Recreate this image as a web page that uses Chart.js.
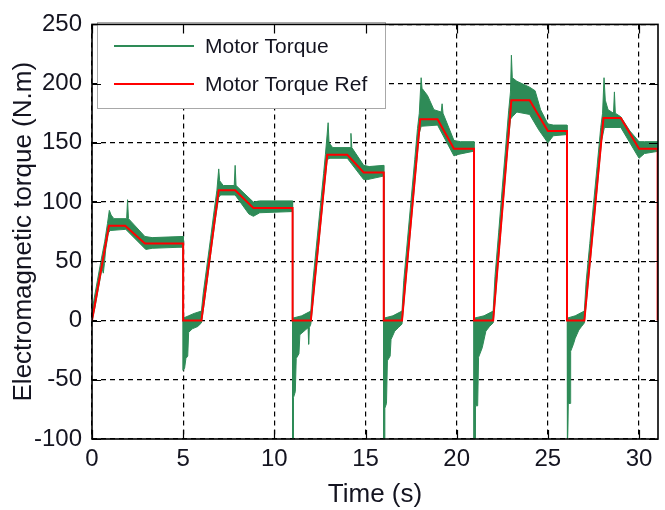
<!DOCTYPE html>
<html>
<head>
<meta charset="utf-8">
<script src="https://cdn.jsdelivr.net/npm/chart.js@4.4.1/dist/chart.umd.min.js"></script>
<style>
html,body{margin:0;padding:0;background:#ffffff;}
#wrap{width:665px;height:510px;}
</style>
</head>
<body>
<div id="wrap"><canvas id="c" width="665" height="510"></canvas></div>
<script>
// ---- tick labels ----
const xTicks = [0, 5, 10, 15, 20, 25, 30];
const yTicks = [-100, -50, 0, 50, 100, 150, 200, 250];

// ---- series names ----
const seriesNames = ['Motor Torque', 'Motor Torque Ref'];

// ---- Motor Torque Ref (red) ----
const refTime = [0, 0.93, 1.82, 2.9, 5.0, 5.0, 6.0, 6.95, 7.85, 8.85, 11.0, 11.0, 12.0, 12.9, 14.0, 14.9, 16.0, 16.0,
  17.0, 18.0, 18.95, 19.85, 20.95, 20.95, 22.0, 23.0, 24.0, 25.0, 26.05, 26.05, 27.0, 28.05, 29.0, 30.0, 31.02, 31.02];
const refTorque = [0, 80, 80, 65, 65, 0, 0, 110, 110, 95, 95, 0, 0, 140, 140, 125, 125, 0,
  0, 170, 170, 145, 145, 0, 0, 186, 186, 160, 160, 0, 0, 171, 171, 145, 145, 0];

// ---- Motor Torque (green): upper edge of the measured band ----
const torqueUpperTime = [
  0, 0.1, 0.3, 0.5, 0.7, 0.85, 0.95, 1.05, 1.2, 1.9, 1.95, 2.0, 2.9, 3.3, 5.0,
  5.0, 5.3, 5.6, 6.0,
  6.1, 6.3, 6.5, 6.7, 6.85, 6.95, 7.0, 7.2, 7.8, 7.85, 7.9, 8.85, 9.2, 11.0,
  11.0, 11.5, 12.0,
  12.1, 12.3, 12.5, 12.7, 12.8, 12.95, 13.0, 13.2, 14.15, 14.2, 14.25, 14.9, 15.2, 16.0,
  16.0, 16.5, 17.0,
  17.1, 17.3, 17.5, 17.7, 17.85, 17.95, 18.05, 18.1, 18.4, 18.75, 19.15, 19.2, 19.25, 19.85, 20.2, 20.95,
  20.95, 21.5, 22.0,
  22.1, 22.3, 22.5, 22.7, 22.85, 22.95, 23.0, 23.05, 23.3, 24.0, 24.3, 24.6, 25.0, 25.3, 26.05,
  26.05, 26.5, 27.0,
  27.1, 27.3, 27.5, 27.7, 27.9, 28.0, 28.08, 28.15, 28.3, 28.6, 28.65, 28.7, 29.0, 29.5, 30.0, 30.3, 31.1
];
const torqueUpper = [
  6, 17, 34, 51, 67, 82, 93, 89, 86, 86, 102, 86, 71, 70, 71,
  2, 4, 6, 8,
  23, 46, 69, 93, 110, 128, 118, 114, 114, 131, 114, 100, 101, 101,
  2, 4, 8,
  31, 62, 93, 124, 140, 167, 150, 146, 146, 158, 146, 131, 130, 131,
  2, 4, 8,
  34, 68, 102, 136, 162, 175, 205, 196, 190, 178, 176, 183, 175, 152, 151, 151,
  2, 4, 8,
  37, 74, 112, 149, 177, 193, 224, 205, 202, 197, 194, 178, 166, 165, 165,
  2, 4, 8,
  33, 65, 98, 130, 163, 175, 205, 186, 178, 175, 193, 175, 172, 160, 151, 151, 151
];

// ---- Motor Torque (green): lower edge of the measured band ----
const torqueLowerTime = [
  0, 0.15, 0.35, 0.55, 0.62, 0.68, 0.75, 0.9, 1.0, 1.85, 2.95, 3.3, 5.0,
  5.0, 5.08, 5.15, 5.25, 5.3, 5.5, 5.8, 6.0,
  6.15, 6.35, 6.55, 6.75, 6.95, 7.05, 7.85, 8.6, 8.85, 9.2, 11.0,
  11.0, 11.04, 11.05, 11.15, 11.2, 11.35, 11.4, 11.7, 11.85, 11.88, 11.92, 12.0,
  12.15, 12.35, 12.55, 12.75, 12.9, 13.05, 14.0, 14.9, 15.1, 16.0,
  16.0, 16.05, 16.06, 16.15, 16.2, 16.35, 16.4, 16.6, 16.8, 17.0,
  17.15, 17.35, 17.55, 17.75, 17.95, 18.05, 18.95, 19.85, 20.0, 20.95,
  20.95, 21.02, 21.03, 21.15, 21.2, 21.4, 21.6, 21.8, 22.0,
  22.15, 22.35, 22.55, 22.75, 22.95, 23.05, 23.3, 24.0, 24.5, 25.0, 25.3, 26.05,
  26.05, 26.1, 26.12, 26.22, 26.25, 26.4, 26.5, 26.7, 26.85, 27.0,
  27.15, 27.35, 27.55, 27.75, 27.95, 28.1, 29.0, 29.5, 30.0, 30.3, 31.1
];
const torqueLower = [
  0, 10, 27, 44, 40, 48, 60, 74, 76, 77, 60, 61, 62,
  -42, -40, -32, -30, -10, -7, -5, -2,
  14, 37, 61, 84, 104, 106, 106, 90, 88, 91, 92,
  -110, -110, -65, -60, -32, -28, -12, -8, -6, -20, -6, -3,
  21, 52, 83, 114, 136, 137, 137, 119, 119, 122,
  -110, -110, -74, -70, -34, -30, -16, -9, -6, -3,
  23, 57, 91, 125, 158, 164, 165, 139, 140, 143,
  -110, -110, -72, -72, -31, -23, -9, -5, -2,
  25, 63, 100, 137, 170, 172, 176, 174, 161, 150, 156, 157,
  -110, -110, -70, -70, -26, -20, -15, -8, -5, -2,
  22, 54, 87, 120, 152, 163, 163, 150, 137, 141, 143
];

const GREEN = '#2e8b57';
const RED = '#ff0000';
const TEXT = '#141420';
const FONT = 'Liberation Sans, Arial, sans-serif';

const toPoints = (ts, vs) => ts.map((t, i) => ({ x: t, y: vs[i] }));

const framePlugin = {
  id: 'frameAndLegend',
  afterDraw(chart) {
    const ctx = chart.ctx;
    const a = chart.chartArea;
    const xs = chart.scales.x, ys = chart.scales.y;
    ctx.save();
    // legend box
    const lx = 97.5, ly = 22.5, lw = 288, lh = 86;
    ctx.fillStyle = '#ffffff';
    ctx.fillRect(lx, ly, lw, lh);
    ctx.strokeStyle = '#a8a8a8';
    ctx.lineWidth = 1;
    ctx.strokeRect(lx, ly, lw, lh);
    const items = [
      { ds: chart.data.datasets[1], y: 47 },
      { ds: chart.data.datasets[0], y: 85 }
    ];
    ctx.font = '21px ' + FONT;
    ctx.textBaseline = 'middle';
    ctx.textAlign = 'left';
    items.forEach(it => {
      ctx.strokeStyle = it.ds.borderColor;
      ctx.lineWidth = 2;
      ctx.beginPath();
      ctx.moveTo(114, it.y - 1);
      ctx.lineTo(194, it.y - 1);
      ctx.stroke();
      ctx.fillStyle = TEXT;
      ctx.fillText(it.ds.label, 205, it.y);
    });
    // axes box
    ctx.strokeStyle = '#000000';
    ctx.lineWidth = 1.6;
    ctx.strokeRect(a.left, a.top, a.right - a.left, a.bottom - a.top);
    // inward tick marks
    ctx.lineWidth = 1.2;
    const tl = 9;
    ctx.beginPath();
    xTicks.forEach(v => {
      const px = Math.round(xs.getPixelForValue(v)) + 0.5;
      ctx.moveTo(px, a.bottom); ctx.lineTo(px, a.bottom - tl);
      ctx.moveTo(px, a.top); ctx.lineTo(px, a.top + tl);
    });
    yTicks.forEach(v => {
      const py = Math.round(ys.getPixelForValue(v)) + 0.5;
      ctx.moveTo(a.left, py); ctx.lineTo(a.left + tl, py);
      ctx.moveTo(a.right, py); ctx.lineTo(a.right - tl, py);
    });
    ctx.stroke();
    ctx.restore();
  }
};

new Chart(document.getElementById('c').getContext('2d'), {
  type: 'line',
  data: {
    datasets: [
      { label: seriesNames[1], data: toPoints(refTime, refTorque), borderColor: RED, borderWidth: 2,
        pointRadius: 0, fill: false, order: 0, tension: 0 },
      { label: seriesNames[0], data: toPoints(torqueUpperTime, torqueUpper), borderColor: GREEN,
        backgroundColor: GREEN, borderWidth: 1, pointRadius: 0, fill: '+1', order: 1, tension: 0 },
      { label: '', data: toPoints(torqueLowerTime, torqueLower), borderColor: GREEN,
        borderWidth: 1, pointRadius: 0, fill: false, order: 2, tension: 0 }
    ]
  },
  options: {
    responsive: false,
    animation: false,
    devicePixelRatio: 1,
    layout: { padding: { top: 19, right: 7, left: 0, bottom: 0 } },
    plugins: { legend: { display: false }, tooltip: { enabled: false } },
    scales: {
      x: {
        type: 'linear', min: 0, max: 31.04,
        afterBuildTicks: s => { s.ticks = xTicks.map(v => ({ value: v })); },
        afterFit: s => { s.height = 71; },
        grid: { color: '#000000', lineWidth: 1.2, drawTicks: false },
        border: { display: false, dash: [5, 4] },
        ticks: { font: { family: FONT, size: 24 }, color: TEXT, padding: 6, maxRotation: 0, autoSkip: false },
        title: { display: true, text: 'Time (s)', font: { family: FONT, size: 26 }, color: TEXT,
          padding: { top: 0, bottom: 0 } }
      },
      y: {
        type: 'linear', min: -100, max: 250,
        afterBuildTicks: s => { s.ticks = yTicks.map(v => ({ value: v })); },
        afterFit: s => { s.width = 92; },
        grid: { color: '#000000', lineWidth: 1.2, drawTicks: false },
        border: { display: false, dash: [5, 4] },
        ticks: { font: { family: FONT, size: 24 }, color: TEXT, padding: 10, autoSkip: false },
        title: { display: true, text: 'Electromagnetic torque (N.m)', font: { family: FONT, size: 26 }, color: TEXT,
          padding: { top: 8, bottom: 0 } }
      }
    }
  },
  plugins: [framePlugin]
});
</script>
</body>
</html>
